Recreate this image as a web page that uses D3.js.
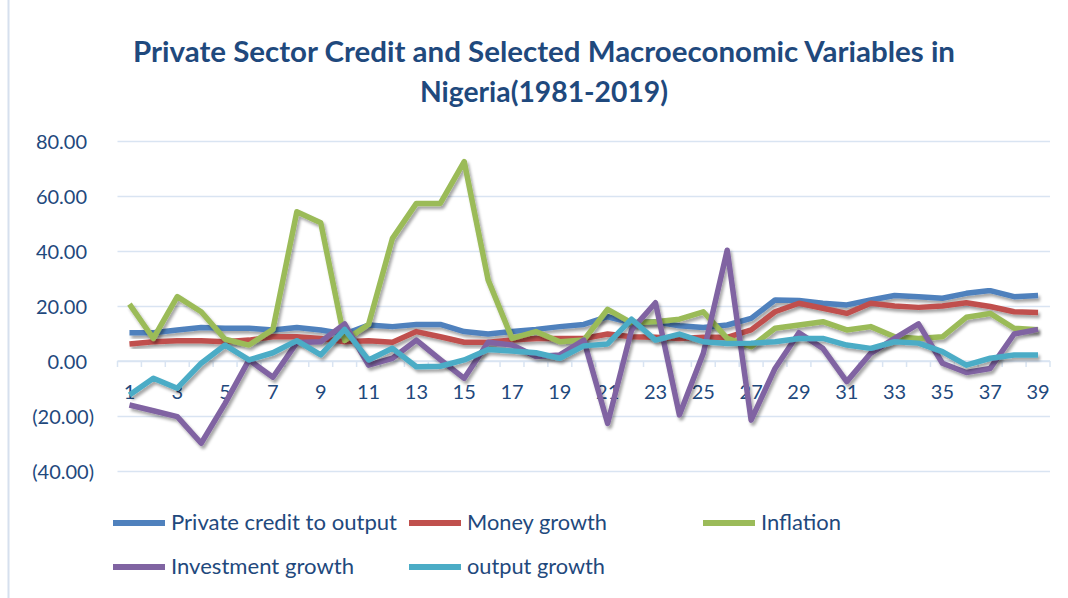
<!DOCTYPE html>
<html lang="en">
<head>
  <meta charset="UTF-8">
  <title>Private Sector Credit - Nigeria</title>
  <script src="https://d3js.org/d3.v7.min.js"></script>
  <style>
    body { margin: 0; background: #fff; }
    text { font-family: Lato, "Open Sans", sans-serif; fill: #1F497D; }
  </style>
</head>
<body>
  <script>
    // data (1981-2019 shown as 1..39)
    const categories = [1,2,3,4,5,6,7,8,9,10,11,12,13,14,15,16,17,18,19,20,
                        21,22,23,24,25,26,27,28,29,30,31,32,33,34,35,36,37,38,39];
    const yTicks = [-40, -20, 0, 20, 40, 60, 80];

    const creditToOutput = [10.3,10.3,11.3,12.2,11.9,11.9,11.3,12.2,11.3,9.8,13.1,12.5,13.3,13.3,10.7,9.8,10.7,11.5,12.5,13.3,
                            16.1,13.9,14.3,12.8,12.2,13.1,15.5,22.2,22.0,21.0,20.4,22.2,23.8,23.4,22.8,24.6,25.6,23.4,23.8];
    const moneyGrowth    = [6.2,7.0,7.4,7.4,7.0,7.6,8.8,8.8,8.2,7.0,7.4,6.8,10.7,8.8,6.8,6.8,7.6,8.2,8.2,8.2,
                            9.8,8.8,8.6,8.2,8.6,8.6,11.3,17.9,21.0,19.2,17.3,21.0,20.0,19.5,20.0,21.2,19.8,17.9,17.6];
    const inflation      = [20.7,8.2,23.4,17.9,7.9,5.8,11.5,54.3,50.3,7.5,13.3,44.6,57.3,57.3,72.5,29.5,8.2,10.7,7.0,7.6,
                            18.8,13.9,14.3,15.2,17.9,8.2,5.2,11.9,13.1,14.3,11.3,12.5,8.8,8.2,8.8,15.9,17.3,11.9,11.4];
    const investGrowth   = [-16.0,-18.1,-20.2,-29.9,-15.4,0.4,-5.9,6.7,7.0,13.5,-1.5,1.0,7.6,0.5,-6.3,6.8,5.8,1.6,2.2,7.6,
                            -22.7,11.3,21.2,-19.6,2.8,40.3,-21.5,-2.7,10.3,4.6,-7.5,2.8,8.2,13.5,-0.8,-4.2,-2.7,9.8,11.5];
    const outputGrowth   = [-12.4,-6.3,-9.9,-0.8,5.8,0.4,3.0,7.4,2.2,11.5,0.4,4.6,-2.1,-1.9,0.4,4.2,3.6,3.0,1.0,5.5,
                            6.2,15.2,7.6,9.8,7.0,6.4,6.5,7.0,8.2,8.2,5.8,4.6,7.0,6.5,3.4,-1.5,1.0,2.2,2.2];

    const seriesNames  = ["Private credit to output", "Money growth", "Inflation", "Investment growth", "output growth"];
    const seriesValues = [creditToOutput, moneyGrowth, inflation, investGrowth, outputGrowth];
    const colors = ["#4F81BD", "#C0504D", "#9BBB59", "#8064A2", "#4BACC6"];

    const W = 1068, H = 598;
    const svg = d3.select("body").append("svg")
        .attr("width", W)
        .attr("height", H);

    // drop shadow like the excel line effect
    const filt = svg.append("defs").append("filter")
        .attr("id", "shadow")
        .attr("x", "-5%").attr("y", "-5%")
        .attr("width", "110%").attr("height", "115%");
    filt.append("feDropShadow")
        .attr("dx", 2).attr("dy", 3)
        .attr("stdDeviation", 1.6)
        .attr("flood-color", "#000")
        .attr("flood-opacity", 0.35);

    // chart frame (only left edge visible)
    svg.append("line")
        .attr("x1", 8.5).attr("x2", 8.5)
        .attr("y1", 0).attr("y2", H)
        .attr("stroke", "#D6E0EE")
        .attr("stroke-width", 2);

    // title
    const title = svg.append("text")
        .attr("text-anchor", "middle")
        .attr("font-size", 28)
        .attr("font-weight", "bold");
    title.append("tspan").attr("x", 544).attr("y", 62)
        .attr("textLength", 822).attr("lengthAdjust", "spacingAndGlyphs")
        .text("Private Sector Credit and Selected Macroeconomic Variables in");
    title.append("tspan").attr("x", 544).attr("y", 102)
        .attr("textLength", 248).attr("lengthAdjust", "spacingAndGlyphs")
        .text("Nigeria(1981-2019)");

    // scales
    const x = d3.scaleBand().domain(categories).range([117.5, 1050]);
    const y = d3.scaleLinear().domain([-40, 80]).range([471, 141]);

    // gridlines
    svg.append("g")
        .attr("transform", "translate(117.5,0)")
        .call(d3.axisLeft(y).tickValues(yTicks).tickSize(-(1050 - 117.5)).tickFormat(""))
        .call(g => g.select(".domain").remove())
        .call(g => g.selectAll(".tick line").attr("stroke", "#D9E4F2").attr("stroke-width", 1.5));

    // y labels, excel accounting style
    const fmt = v => v < 0 ? "(" + Math.abs(v).toFixed(2) + ")" : v.toFixed(2);
    svg.append("g")
        .attr("transform", "translate(94,0)")
        .call(d3.axisLeft(y).tickValues(yTicks).tickSize(0).tickPadding(0).tickFormat(fmt))
        .call(g => g.select(".domain").remove())
        .call(g => g.selectAll(".tick text")
            .attr("font-size", 20)
            .attr("fill", "#1F497D")
            .attr("font-family", "Lato, sans-serif")
            .attr("x", d => d < 0 ? 0 : -7)
            .attr("dy", "0.35em"));

    // category axis at zero
    const y0 = y(0);
    svg.append("line")
        .attr("x1", 117.5).attr("x2", 1050)
        .attr("y1", y0).attr("y2", y0)
        .attr("stroke", "#D9E4F2").attr("stroke-width", 1.5);
    svg.append("g").selectAll("line")
        .data(categories.concat([40]))
        .enter().append("line")
        .attr("x1", d => d === 40 ? 1050 : x(d))
        .attr("x2", d => d === 40 ? 1050 : x(d))
        .attr("y1", y0).attr("y2", y0 + 6)
        .attr("stroke", "#D9E4F2").attr("stroke-width", 1.5);

    svg.append("g")
        .attr("transform", `translate(0,${y0})`)
        .call(d3.axisBottom(x).tickValues(categories.filter(d => d % 2 === 1)).tickSize(0).tickPadding(0))
        .call(g => g.select(".domain").remove())
        .call(g => g.selectAll(".tick text")
            .attr("font-size", 20)
            .attr("fill", "#1F497D")
            .attr("font-family", "Lato, sans-serif")
            .attr("y", 31)
            .attr("dy", "0.35em"));

    // lines
    const line = d3.line()
        .x((d, i) => x(categories[i]) + x.bandwidth() / 2)
        .y(d => y(d));

    svg.append("g").selectAll("path.series")
        .data(seriesValues)
        .enter()
        .append("path")
        .attr("class", "series")
        .attr("d", d => line(d))
        .attr("fill", "none")
        .attr("stroke", (d, i) => colors[i])
        .attr("stroke-width", 5.5)
        .attr("stroke-linejoin", "round")
        .attr("filter", "url(#shadow)");

    // legend
    const legendPos = [[113, 523], [409, 523], [703, 523], [113, 567], [409, 567]];
    const legendWidth = [226, 140, 80, 183, 138];
    const legend = svg.append("g").selectAll("g")
        .data(seriesNames)
        .enter().append("g")
        .attr("transform", (d, i) => `translate(${legendPos[i][0]},${legendPos[i][1]})`);
    legend.append("line")
        .attr("x1", 0).attr("x2", 52)
        .attr("y1", 0).attr("y2", 0)
        .attr("stroke", (d, i) => colors[i])
        .attr("stroke-width", 6);
    legend.append("text")
        .attr("x", 58)
        .attr("dy", "0.35em")
        .attr("font-size", 21)
        .attr("textLength", (d, i) => legendWidth[i])
        .attr("lengthAdjust", "spacingAndGlyphs")
        .text(d => d);
  </script>
</body>
</html>
